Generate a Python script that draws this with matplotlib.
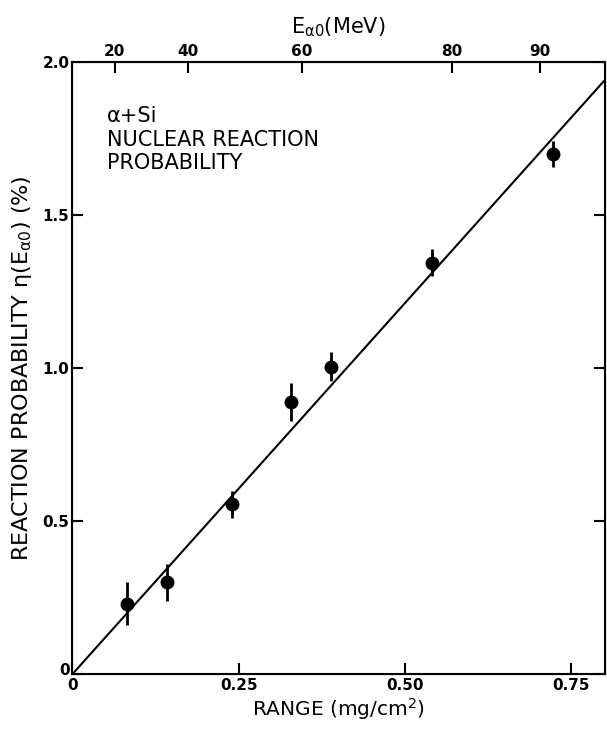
import numpy as np
import matplotlib
matplotlib.use("Agg")
import matplotlib.pyplot as plt
import matplotlib.transforms as mtransforms

# measured points (range in mg/cm2, probability in %)
range_pts = [0.082, 0.143, 0.240, 0.329, 0.389, 0.541, 0.722]
prob_pts = [0.23, 0.30, 0.555, 0.89, 1.005, 1.345, 1.70]
prob_err = [0.07, 0.06, 0.045, 0.062, 0.048, 0.045, 0.042]

# straight line fit through origin
fit_range = [0.0, 0.80]
fit_prob = [0.0, 1.94]

# alpha energy scale on top axis
energy_labels = ["20", "40", "60", "80", "90"]
energy_at_range = [0.064, 0.174, 0.345, 0.571, 0.703]

xticks = [0, 0.25, 0.50, 0.75]
xticklabels = ["0", "0.25", "0.50", "0.75"]
yticks = [0, 0.5, 1.0, 1.5, 2.0]
yticklabels = ["0", "0.5", "1.0", "1.5", "2.0"]

plt.rcParams['font.family'] = ['DejaVu Sans']
plt.rcParams['mathtext.default'] = 'regular'

fig = plt.figure(figsize=(6.07, 7.29), dpi=100)
ax = fig.add_axes([0.119, 0.075, 0.877, 0.840])

ax.plot(fit_range, fit_prob, color='black', lw=1.5, solid_capstyle='butt')
ax.errorbar(range_pts, prob_pts, yerr=prob_err, fmt='o', color='black',
            ms=9, elinewidth=2, capsize=0)

ax.set_xlim(0, 0.80)
ax.set_ylim(0, 2.0)
ax.set_xticks(xticks)
ax.set_xticklabels(xticklabels, fontweight='bold', fontsize=11)
ax.set_yticks(yticks)
ax.set_yticklabels(yticklabels, fontweight='bold', fontsize=11)
ax.tick_params(axis='both', direction='in', length=8, width=1.5,
               top=False, right=True)
ax.tick_params(axis='x', pad=3)
ax.tick_params(axis='y', pad=2)
for s in ax.spines.values():
    s.set_linewidth(1.5)

# nudge the y "0" label up a bit so it clears the x "0"
zero_lbl = ax.get_yticklabels()[0]
zero_lbl.set_transform(zero_lbl.get_transform() +
                       mtransforms.ScaledTranslation(0, 4 / 72, fig.dpi_scale_trans))

ax.set_xlabel(r'RANGE (mg/cm$^2$)', fontsize=14.5, labelpad=2)
ax.set_ylabel(r'REACTION PROBABILITY $\eta(E_{\alpha0})$ (%)', fontsize=16, labelpad=6)

top = ax.twiny()
top.set_xlim(ax.get_xlim())
top.set_xticks(energy_at_range)
top.set_xticklabels(energy_labels, fontweight='bold', fontsize=11)
top.tick_params(axis='x', direction='in', length=8, width=1.5, pad=2)
top.set_xlabel(r'$E_{\alpha0}$(MeV)', fontsize=15, labelpad=8)

ax.text(0.066, 0.928, "α+Si\nNUCLEAR REACTION\nPROBABILITY", transform=ax.transAxes,
        ha='left', va='top', fontsize=15, linespacing=1.22)

fig.savefig("out.png", dpi=100)
